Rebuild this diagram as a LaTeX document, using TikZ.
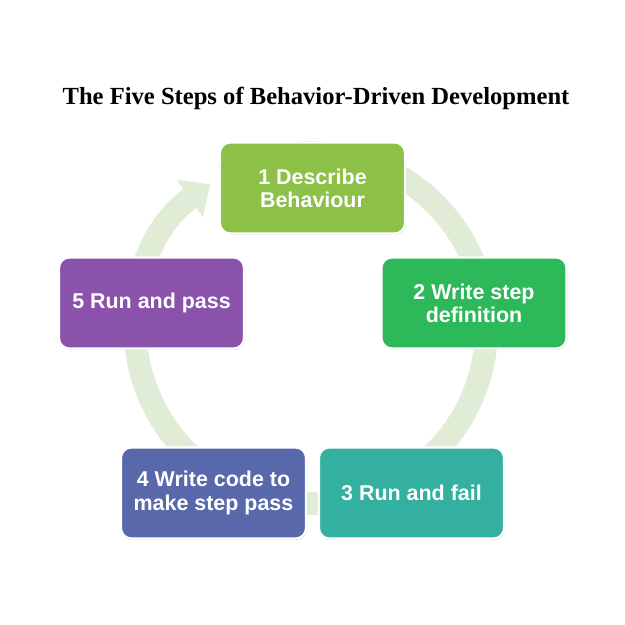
\documentclass[tikz,border=0pt]{standalone}
\usepackage{fontspec}
\setmainfont{Liberation Serif}
\setsansfont{Liberation Sans}
\usetikzlibrary{arrows.meta, positioning, shadows, calc}

\definecolor{stepgreen}{RGB}{140,192,70}
\definecolor{stepemerald}{RGB}{45,184,90}
\definecolor{stepteal}{RGB}{52,176,160}
\definecolor{stepblue}{RGB}{88,104,170}
\definecolor{steppurple}{RGB}{138,82,170}
\definecolor{ringgreen}{RGB}{225,236,214}

\begin{document}
\begin{tikzpicture}[
    every node/.style={font=\sffamily\bfseries},
    stepbox/.style={rectangle, rounded corners=6pt, minimum width=3.7cm, minimum height=1.82cm,
        align=center, text=white, draw=white, line width=1.2pt,
        font=\sffamily\bfseries\fontsize{12.2}{13.2}\selectfont,
        drop shadow={opacity=0.25, shadow xshift=0.6pt, shadow yshift=-0.8pt}},
    ring/.style={line width=0.46cm, draw=ringgreen},
    title/.style={font=\rmfamily\bfseries\fontsize{14}{17}\selectfont}
]

% Fix the page
\useasboundingbox (0, 0) rectangle (12.5, 12.5);

% Title
\node[title] (title) at (6.32, 10.54) {The Five Steps of Behavior-Driven Development};

% Cycle ring behind the steps
\coordinate (centre) at (6.22, 5.94);
\def\ringradius{3.51}
\draw[ring, -{Triangle[length=0.5cm, width=0.88cm]}]
    ($(centre)+(120:\ringradius)$) arc[start angle=120, end angle=-235, radius=\ringradius];

% Steps
\node[stepbox, fill=stepgreen] (step1) at (6.25, 8.74) {1 Describe\\Behaviour};
\node[stepbox, fill=stepemerald] (step2) at (9.48, 6.44) {2 Write step\\definition};
\node[stepbox, fill=stepteal] (step3) at (8.23, 2.64) {3 Run and fail};
\node[stepbox, fill=stepblue] (step4) at (4.27, 2.64) {4 Write code to\\make step pass};
\node[stepbox, fill=steppurple] (step5) at (3.03, 6.44) {5 Run and pass};

\end{tikzpicture}
\end{document}
